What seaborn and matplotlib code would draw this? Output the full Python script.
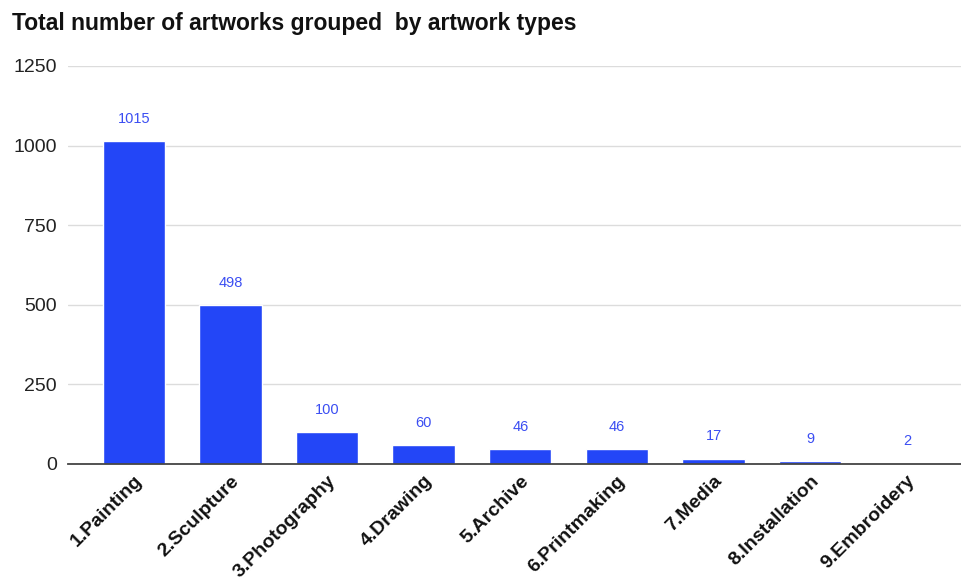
import matplotlib
matplotlib.use("Agg")
import matplotlib.pyplot as plt
import seaborn as sns
import pandas as pd

categories = ["1.Painting", "2.Sculpture", "3.Photography", "4.Drawing", "5.Archive",
              "6.Printmaking", "7.Media", "8.Installation", "9.Embroidery"]
counts = [1015, 498, 100, 60, 46, 46, 17, 9, 2]
yticks = [0, 250, 500, 750, 1000, 1250]
title = "Total number of artworks grouped  by artwork types"

sns.set_theme(style="white")
plt.rcParams['font.family'] = ['Liberation Sans', 'DejaVu Sans']

df = pd.DataFrame({"type": categories, "count": counts})

fig = plt.figure(figsize=(9.61, 5.82), dpi=100)
ax = fig.add_axes([68/961, 1-464/582, 893/961, (464-66)/582])

sns.barplot(data=df, x="type", y="count", color="#2346f7", saturation=1,
            width=0.645, ax=ax, zorder=3)

ax.set_ylim(0, 1250)
ax.set_xlim(-0.68, 8.56)
ax.set_yticks(yticks)
ax.set_yticklabels([str(t) for t in yticks], fontsize=14, color="#222222")
ax.yaxis.grid(True, color="#dcdcdc", linewidth=1, zorder=0)
ax.set_axisbelow(True)
for s in ["top", "right", "left"]:
    ax.spines[s].set_visible(False)
ax.spines["bottom"].set_color("#444444")
ax.spines["bottom"].set_linewidth(1.3)
ax.spines["bottom"].set_zorder(4)
ax.tick_params(axis="both", length=0)
ax.tick_params(axis="y", pad=8)
ax.set_xlabel("")
ax.set_ylabel("")
ax.set_xticks(range(len(categories)))
ax.set_xticklabels(categories, rotation=45, ha="right", rotation_mode="anchor",
                   fontsize=14, fontweight="bold", color="#111111")
ax.tick_params(axis="x", pad=6)

for i, v in enumerate(counts):
    ax.annotate(str(v), xy=(i, v), xytext=(0, 11), textcoords="offset points",
                ha="center", va="bottom", fontsize=10.5, color="#3b4ef2")

fig.text(12/961, 1-12/582, title, ha="left", va="top", fontsize=16.5,
         fontweight="bold", color="#111111")

fig.savefig("out.png", dpi=100)
